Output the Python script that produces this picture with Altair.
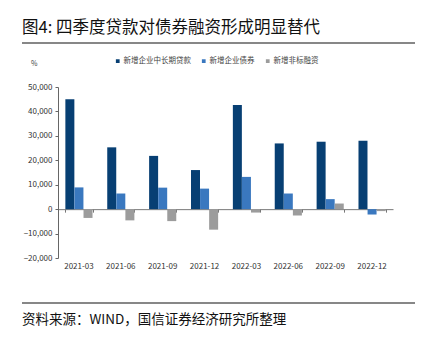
import altair as alt
import pandas as pd

quarters = ["2021-03", "2021-06", "2021-09", "2021-12", "2022-03", "2022-06", "2022-09", "2022-12"]
series = ["新增企业中长期贷款", "新增企业债券", "新增非标融资"]
loans = [45000, 25300, 21800, 16000, 42600, 26900, 27600, 28000]
bonds = [8900, 6400, 8800, 8400, 13200, 6400, 4100, -2200]
nonstd = [-3600, -4600, -4900, -8400, -1400, -2600, 2300, -800]
colors = ["#073f73", "#3a78bf", "#9c9c9c"]
y_ticks = [-20000, -10000, 0, 10000, 20000, 30000, 40000, 50000]

title_text = "图4: 四季度贷款对债券融资形成明显替代"
source_text = "资料来源：WIND，国信证券经济研究所整理"

rows = []
for s, vals in zip(series, [loans, bonds, nonstd]):
    for q, v in zip(quarters, vals):
        rows.append({"quarter": q, "series": s, "value": v})
df = pd.DataFrame(rows)

W, H = 335, 171
CJK = "Noto Sans CJK SC"

xscale = alt.Scale(domain=quarters, paddingInner=0.35, paddingOuter=0.175)
yscale = alt.Scale(domain=[-20000, 50000], nice=False)

bars = alt.Chart(df).mark_bar(size=9).encode(
    x=alt.X("quarter:N", scale=xscale, sort=quarters, title=None,
            axis=alt.Axis(orient="bottom", domain=False, ticks=False, labelAngle=0, labelFontSize=8,
                          labelColor="#333333", labelFont=CJK, labelPadding=4)),
    xOffset=alt.XOffset("series:N", sort=series, scale=alt.Scale(domain=series, paddingInner=0, paddingOuter=0)),
    y=alt.Y("value:Q", scale=yscale, title=None,
            axis=alt.Axis(values=y_ticks, format=",.0f", grid=False, domainColor="#666666",
                          tickColor="#666666", tickSize=3, labelFontSize=8, labelColor="#333333",
                          labelFont=CJK, labelPadding=3)),
    color=alt.Color("series:N", sort=series, scale=alt.Scale(domain=series, range=colors),
                    legend=alt.Legend(title=None, orient="none", direction="horizontal",
                                      legendX=56, legendY=-30, symbolType="square", symbolSize=14,
                                      labelFontSize=7.5, labelColor="#444444", labelFont=CJK,
                                      columnPadding=9, symbolStrokeWidth=0, labelOffset=2)),
)

zero_axis = alt.Chart(df).mark_point(opacity=0).encode(
    x=alt.X("quarter:N", scale=xscale, sort=quarters, title=None,
            axis=alt.Axis(orient="bottom", offset=-(H - H * 50 / 70), labels=False, ticks=True,
                          tickBand="extent", tickSize=3, domainColor="#777777", tickColor="#777777",
                          domainWidth=1)),
    y=alt.value(0),
)

one = pd.DataFrame({"a": [0]})
title = alt.Chart(one).mark_text(align="left", baseline="middle", fontSize=16.5, font=CJK,
                                 color="#111111").encode(
    x=alt.value(-36), y=alt.value(-59), text=alt.value(title_text))
title_line = alt.Chart(one).mark_rule(color="#111111", strokeWidth=1.2).encode(
    x=alt.value(-36), x2=alt.value(357), y=alt.value(-44))
pct = alt.Chart(one).mark_text(align="left", baseline="middle", fontSize=7, font=CJK,
                               color="#444444").encode(
    x=alt.value(-27), y=alt.value(-23), text=alt.value("%"))
foot_line = alt.Chart(one).mark_rule(color="#111111", strokeWidth=1.2).encode(
    x=alt.value(-36), x2=alt.value(357), y=alt.value(216))
foot = alt.Chart(one).mark_text(align="left", baseline="middle", fontSize=13.5, font=CJK,
                                color="#111111").encode(
    x=alt.value(-36), y=alt.value(233), text=alt.value(source_text))

chart = alt.layer(bars, zero_axis, title, title_line, pct, foot_line, foot).resolve_axis(
    x="independent"
).properties(
    width=W, height=H,
    padding={"left": 58, "top": 87, "right": 36, "bottom": 79},
    autosize=alt.AutoSizeParams(type="none"),
    background="white",
).configure_view(stroke=None)

chart.save("out.html", embed_options={"renderer": "svg", "actions": False})
